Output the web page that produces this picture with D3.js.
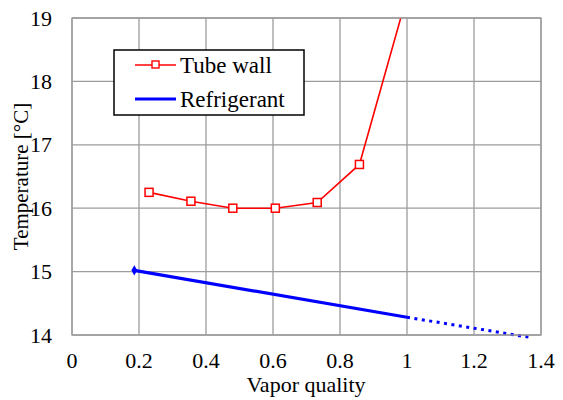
<!DOCTYPE html>
<html>
<head>
<meta charset="utf-8">
<script src="https://cdn.jsdelivr.net/npm/d3@7"></script>
<style>
  body { margin: 0; background: #fff; }
</style>
</head>
<body>
<svg id="chart" width="563" height="400" font-family="'Liberation Serif', 'Times New Roman', serif"></svg>
<script>
// vapor quality / temperature readings
var tubeX = [0.23, 0.355, 0.48, 0.607, 0.732, 0.858, 1.0];
var tubeT = [16.25, 16.11, 16.0, 16.0, 16.09, 16.69, 19.35];
var refX = [0.186, 1.0];
var refT = [15.02, 14.28];
var refExtX = [1.0, 1.37];
var refExtT = [14.28, 13.96];
var xTicks = [0, 0.2, 0.4, 0.6, 0.8, 1, 1.2, 1.4];
var yTicks = [14, 15, 16, 17, 18, 19];

var svg = d3.select("#chart");
var m = {left: 72, top: 18, right: 541, bottom: 335};
var fs = 22;

var x = d3.scaleLinear().domain([0, 1.4]).range([m.left, m.right]);
var y = d3.scaleLinear().domain([14, 19]).range([m.bottom, m.top]);

svg.append("defs").append("clipPath").attr("id", "plotclip")
  .append("rect")
    .attr("x", m.left).attr("y", m.top)
    .attr("width", m.right - m.left).attr("height", m.bottom - m.top);

// grid
var grid = svg.append("g").attr("class", "grid");
grid.selectAll("line.v").data(xTicks).enter().append("line")
  .attr("x1", function(d) { return x(d); }).attr("x2", function(d) { return x(d); })
  .attr("y1", m.top).attr("y2", m.bottom)
  .attr("stroke", "#9c9c9c").attr("stroke-width", 1.3);
grid.selectAll("line.h").data(yTicks).enter().append("line")
  .attr("y1", function(d) { return y(d); }).attr("y2", function(d) { return y(d); })
  .attr("x1", m.left).attr("x2", m.right)
  .attr("stroke", "#9c9c9c").attr("stroke-width", 1.3);

// tick labels
svg.selectAll("text.xt").data(xTicks).enter().append("text")
  .attr("x", function(d) { return x(d); })
  .attr("y", 368)
  .attr("text-anchor", "middle")
  .attr("font-size", fs)
  .text(function(d) { return d3.format("")(d); });
svg.selectAll("text.yt").data(yTicks).enter().append("text")
  .attr("x", 52)
  .attr("y", function(d) { return y(d) + 7.5; })
  .attr("text-anchor", "end")
  .attr("font-size", fs)
  .text(function(d) { return d; });

// axis titles
svg.append("text")
  .attr("x", (m.left + m.right) / 2 - 0.5)
  .attr("y", 392)
  .attr("text-anchor", "middle")
  .attr("font-size", fs)
  .text("Vapor quality");
svg.append("text")
  .attr("transform", "translate(28," + ((m.top + m.bottom) / 2) + ") rotate(-90)")
  .attr("text-anchor", "middle")
  .attr("font-size", fs - 1)
  .text("Temperature [°C]");

var lineFn = d3.line()
  .x(function(d) { return x(d[0]); })
  .y(function(d) { return y(d[1]); });

var plot = svg.append("g").attr("clip-path", "url(#plotclip)");

// tube wall
var tubeData = d3.zip(tubeX, tubeT);
plot.append("path")
  .datum(tubeData)
  .attr("d", lineFn)
  .attr("fill", "none")
  .attr("stroke", "#ff0000")
  .attr("stroke-width", 1.6);
plot.selectAll("rect.mk").data(tubeData).enter().append("rect")
  .attr("x", function(d) { return x(d[0]) - 4; })
  .attr("y", function(d) { return y(d[1]) - 4; })
  .attr("width", 8).attr("height", 8)
  .attr("fill", "#fff")
  .attr("stroke", "#ff0000")
  .attr("stroke-width", 1.5);

// refrigerant
var refData = d3.zip(refX, refT);
svg.append("path")
  .datum(refData)
  .attr("d", lineFn)
  .attr("fill", "none")
  .attr("stroke", "#0000ff")
  .attr("stroke-width", 3.2);
svg.append("path")
  .datum(d3.zip(refExtX, refExtT))
  .attr("d", lineFn)
  .attr("fill", "none")
  .attr("stroke", "#0000ff")
  .attr("stroke-width", 3)
  .attr("stroke-dasharray", "3,4.5");
svg.append("path")
  .attr("d", d3.symbol().type(d3.symbolDiamond).size(30)())
  .attr("transform", "translate(" + x(refX[0]) + "," + y(refT[0]) + ")")
  .attr("fill", "#0000ff");

// plot border
svg.append("rect")
  .attr("x", m.left).attr("y", m.top)
  .attr("width", m.right - m.left).attr("height", m.bottom - m.top)
  .attr("fill", "none")
  .attr("stroke", "#9c9c9c").attr("stroke-width", 1.3);

// legend
var lg = svg.append("g");
lg.append("rect")
  .attr("x", 114).attr("y", 50).attr("width", 190).attr("height", 65)
  .attr("fill", "#fff").attr("stroke", "#000").attr("stroke-width", 1.5);
lg.append("line")
  .attr("x1", 135).attr("x2", 176).attr("y1", 65).attr("y2", 65)
  .attr("stroke", "#ff0000").attr("stroke-width", 1.6);
lg.append("rect")
  .attr("x", 152).attr("y", 61).attr("width", 7).attr("height", 7)
  .attr("fill", "#fff").attr("stroke", "#ff0000").attr("stroke-width", 1.4);
lg.append("line")
  .attr("x1", 135).attr("x2", 176).attr("y1", 99).attr("y2", 99)
  .attr("stroke", "#0000ff").attr("stroke-width", 3.2);
lg.append("text").attr("x", 180).attr("y", 73).attr("font-size", fs + 1).text("Tube wall");
lg.append("text").attr("x", 180).attr("y", 107).attr("font-size", fs + 1).text("Refrigerant");
</script>
</body>
</html>
